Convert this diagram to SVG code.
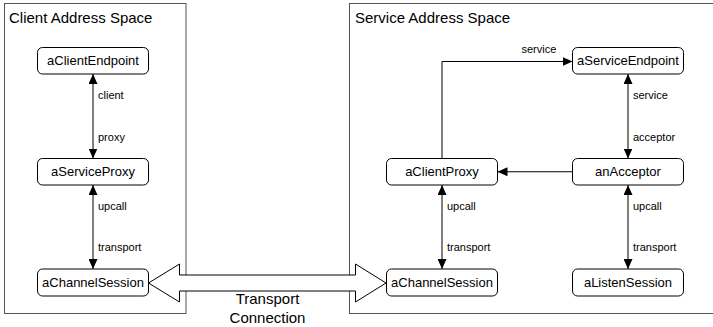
<svg xmlns="http://www.w3.org/2000/svg" width="713" height="327" viewBox="0 0 713 327">
<style>
.space{fill:#fff;stroke:#555;stroke-width:1}
.title{font-family:"Liberation Sans",Arial,sans-serif;font-size:15px;fill:#000}
.node rect{fill:#fff;stroke:#000;stroke-width:1}
.node text{font-family:"Liberation Sans",Arial,sans-serif;font-size:13px;fill:#000;text-anchor:middle}
.conn{fill:none;stroke:#000;stroke-width:1}
.lbl{font-family:"Liberation Sans",Arial,sans-serif;font-size:11px;fill:#000}
.big{fill:#fff;stroke:#000;stroke-width:1}
.bigtxt{font-family:"Liberation Sans",Arial,sans-serif;font-size:15px;fill:#000;text-anchor:middle}
</style>
<defs>
<marker id="ah" markerUnits="userSpaceOnUse" markerWidth="10" markerHeight="9" refX="10" refY="4.5" orient="auto-start-reverse" viewBox="0 0 10 9">
<path d="M0,0 L10,4.5 L0,9 z" fill="#000"/>
</marker>
</defs>
<g id="clientSpace">
<rect class="space" x="4.5" y="3.5" width="181.5" height="310"/>
<text class="title" x="9" y="22.5">Client Address Space</text>
</g>
<g id="serviceSpace">
<rect class="space" x="349.5" y="3.5" width="370" height="310"/>
<text class="title" x="355" y="22.5">Service Address Space</text>
</g>
<g id="connectors">
<line class="conn" x1="93" y1="74" x2="93" y2="158.5" marker-start="url(#ah)" marker-end="url(#ah)"/>
<line class="conn" x1="93" y1="185" x2="93" y2="269" marker-start="url(#ah)" marker-end="url(#ah)"/>
<line class="conn" x1="442" y1="185" x2="442" y2="269" marker-start="url(#ah)" marker-end="url(#ah)"/>
<line class="conn" x1="628" y1="74" x2="628" y2="158.5" marker-start="url(#ah)" marker-end="url(#ah)"/>
<line class="conn" x1="628" y1="185" x2="628" y2="269" marker-start="url(#ah)" marker-end="url(#ah)"/>
<path class="conn" d="M442,158.5 V61.5 H572.5" marker-end="url(#ah)"/>
<line class="conn" x1="572.5" y1="171.75" x2="497.5" y2="171.75" marker-end="url(#ah)"/>
<text class="lbl" x="98" y="98.5">client</text>
<text class="lbl" x="98" y="140.5">proxy</text>
<text class="lbl" x="98" y="209.5">upcall</text>
<text class="lbl" x="98" y="251">transport</text>
<text class="lbl" x="447" y="209.5">upcall</text>
<text class="lbl" x="447" y="251">transport</text>
<text class="lbl" x="633" y="98.5">service</text>
<text class="lbl" x="633" y="140.5">acceptor</text>
<text class="lbl" x="633" y="209.5">upcall</text>
<text class="lbl" x="633" y="251">transport</text>
<text class="lbl" x="521.5" y="52.5">service</text>
</g>
<g id="transportConnection">
<polygon class="big" points="148.5,283 179.5,264 179.5,275 355.5,275 355.5,264 386,283 355.5,302 355.5,291 179.5,291 179.5,302"/>
<text class="bigtxt" x="267.5" y="304">Transport</text>
<text class="bigtxt" x="267.5" y="322.5">Connection</text>
</g>
<g id="aClientEndpoint" class="node"><rect x="37.5" y="47.5" width="111" height="26.5" rx="5"/><text x="93" y="65.2">aClientEndpoint</text></g>
<g id="aServiceProxy" class="node"><rect x="37.5" y="158.5" width="111" height="26.5" rx="5"/><text x="93" y="176.2">aServiceProxy</text></g>
<g id="aChannelSessionClient" class="node"><rect x="37.5" y="269" width="111" height="27" rx="5"/><text x="93" y="287">aChannelSession</text></g>
<g id="aServiceEndpoint" class="node"><rect x="572.5" y="47.5" width="111" height="26.5" rx="5"/><text x="628" y="65.2">aServiceEndpoint</text></g>
<g id="aClientProxy" class="node"><rect x="386.5" y="158.5" width="111" height="26.5" rx="5"/><text x="442" y="176.2">aClientProxy</text></g>
<g id="anAcceptor" class="node"><rect x="572.5" y="158.5" width="111" height="26.5" rx="5"/><text x="628" y="176.2">anAcceptor</text></g>
<g id="aChannelSessionService" class="node"><rect x="386.5" y="269" width="111" height="27" rx="5"/><text x="442" y="287">aChannelSession</text></g>
<g id="aListenSession" class="node"><rect x="572.5" y="269" width="111" height="27" rx="5"/><text x="628" y="287">aListenSession</text></g>
</svg>
